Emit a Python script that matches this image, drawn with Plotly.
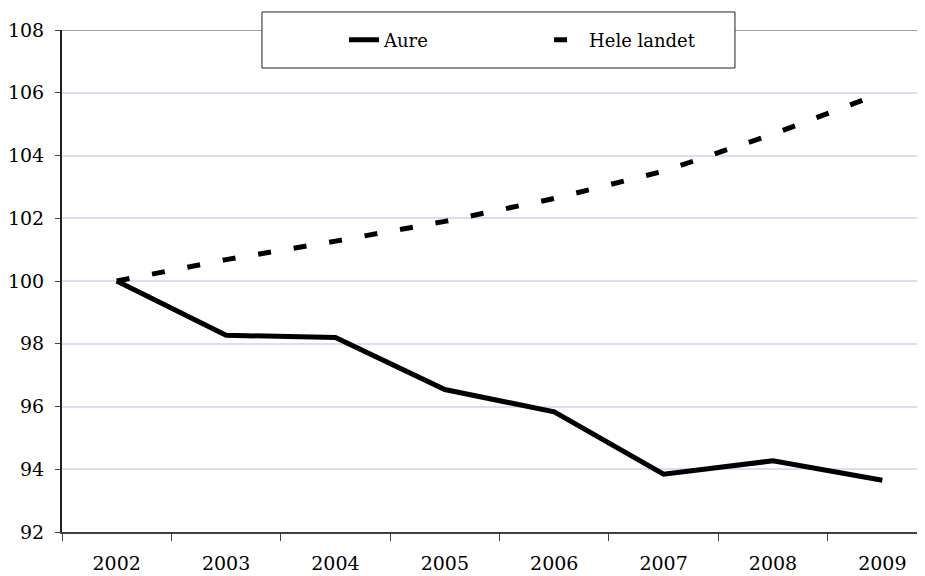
import plotly.graph_objects as go

years = ['2002', '2003', '2004', '2005', '2006', '2007', '2008', '2009']
aure = [100.0, 98.27, 98.2, 96.54, 95.83, 93.84, 94.27, 93.65]
hele_landet = [100.0, 100.68, 101.27, 101.9, 102.63, 103.5, 104.68, 106.0]

serif = 'DejaVu Serif'

fig = go.Figure()
fig.add_trace(go.Scatter(x=years, y=aure, name='Aure', mode='lines',
                         line=dict(color='black', width=5)))
fig.add_trace(go.Scatter(x=years, y=hele_landet, name='Hele landet', mode='lines',
                         line=dict(color='black', width=5, dash='13px,23px')))

# grey line at the top of the plot area
fig.add_shape(type='line', xref='paper', yref='y', x0=0, x1=1, y0=108, y1=108,
              line=dict(color='#808080', width=1.5), layer='below')
# legend frame
fig.add_shape(type='rect', xref='paper', yref='paper', x0=0.2317, x1=0.7798,
              y0=0.9243, y1=1.0359, fillcolor='white',
              line=dict(color='#202020', width=1), layer='above')

fig.update_layout(
    width=917, height=568,
    margin=dict(l=54, r=0, t=22, b=44),
    plot_bgcolor='white', paper_bgcolor='white',
    font=dict(family=serif, size=19, color='black'),
    showlegend=True,
    legend=dict(orientation='h', x=0.3268, xanchor='left', y=0.98, yanchor='middle',
                bgcolor='rgba(0,0,0,0)', borderwidth=0,
                font=dict(family=serif, size=18), entrywidth=160),
)
fig.update_xaxes(type='category', range=[-0.5, 7.39], tickson='boundaries',
                 ticks='outside', ticklen=7, tickcolor='#404040', tickwidth=1,
                 showline=True, linecolor='#404040', linewidth=2,
                 showgrid=False, tickfont=dict(family=serif, size=19),
                 ticklabelstandoff=13)
fig.update_yaxes(range=[92, 108], dtick=2, ticks='outside', ticklen=5,
                 tickcolor='#404040', showline=True, linecolor='#202020', linewidth=2,
                 showgrid=True, gridcolor='#dcdcf6', gridwidth=1.5, zeroline=False,
                 tickfont=dict(family=serif, size=19), ticklabelstandoff=7)

fig.write_html("out.html")
